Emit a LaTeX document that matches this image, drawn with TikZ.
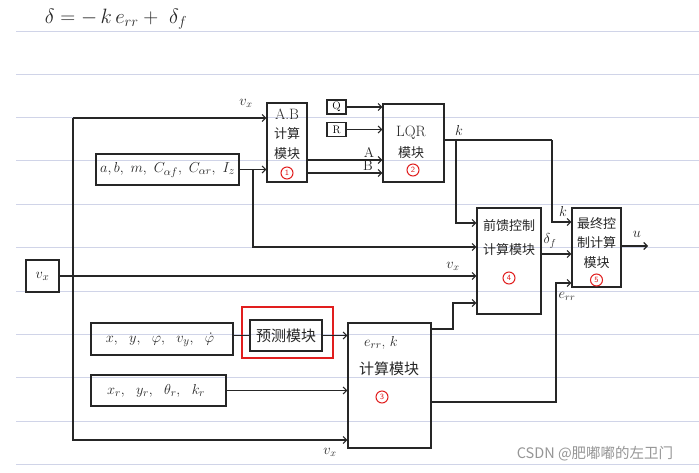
\documentclass[tikz,border=0pt]{standalone}
\usepackage{fontspec}
\newfontfamily\cjk{Noto Sans CJK SC}
\usetikzlibrary{arrows.meta}
\definecolor{ink}{RGB}{38,38,38}
\definecolor{cred}{RGB}{225,30,30}
\definecolor{rule}{RGB}{208,212,232}
\definecolor{wm}{RGB}{150,150,150}
\tikzset{
  blk/.style={draw=ink, line width=1.2pt, rectangle, inner sep=0pt},
  arr/.style={draw=ink, line width=1.1pt, -{Straight Barb[length=3.5pt,width=7pt]}},
  ln/.style={draw=ink, line width=1.1pt},
  cn/.style={circle, draw=cred, text=cred, line width=1pt, inner sep=0pt, minimum size=12pt, font=\fontsize{8}{8}\selectfont\sffamily},
  zh/.style={font=\cjk\fontsize{13}{13}\selectfont, inner sep=0pt, text=ink},
  zhb/.style={font=\cjk\fontsize{15}{15}\selectfont, inner sep=0pt, text=ink},
  lt/.style={font=\fontsize{15}{15}\selectfont, inner sep=0pt, text=ink},
  lbl/.style={font=\fontsize{14}{14}\selectfont, inner sep=0pt, text=ink},
}
\begin{document}
\begin{tikzpicture}[x=1pt,y=-1pt]
\useasboundingbox (0,0) rectangle (699,472);
\fill[white] (0,0) rectangle (699,472);
% ruled lines
\foreach \yy in {31,74,117,160,204,247,291,334,377,421,464}
  \draw[rule, line width=1pt] (16,\yy) -- (699,\yy);

% formula
\node[font=\fontsize{21}{21}\selectfont, inner sep=0pt, text=ink] (formula) at (116,19) {$\delta = -\,k\,e_{rr} + \ \delta_f$};

% boxes
\node[blk, minimum width=40pt, minimum height=79pt] (ab) at (287,142.5) {};
\node[lt] (abt1) at (287,114) {A.B};
\node[zh] (abt2) at (287,134) {计算};
\node[zh] (abt3) at (287,154) {模块};
\node[cn] (abn) at (287,173) {1};

\node[blk, minimum width=19pt, minimum height=14pt, font=\fontsize{11}{11}\selectfont] (q) at (336.5,107) {Q};
\node[blk, minimum width=19pt, minimum height=14pt, font=\fontsize{11}{11}\selectfont] (r) at (336.5,129.5) {R};

\node[blk, minimum width=61pt, minimum height=78pt] (lqr) at (413.5,143) {};
\node[lt] (lqrt1) at (411,133) {LQR};
\node[zh] (lqrt2) at (411,153) {模块};
\node[cn] (lqrn) at (413,170) {2};

\node[blk, minimum width=143pt, minimum height=31pt] (par) at (167.5,169.5) {};
\node[lt] (part) at (167.5,170) {$a,b,\ m,\ C_{\alpha f},\ C_{\alpha r},\ I_z$};

\node[blk, minimum width=64pt, minimum height=106pt] (ff) at (509,261) {};
\node[zh] (fft1) at (509,226) {前馈控制};
\node[zh] (fft2) at (509,250) {计算模块};
\node[cn] (ffn) at (509,278) {4};

\node[blk, minimum width=49pt, minimum height=79pt] (fin) at (596.5,247.5) {};
\node[zh] (fint1) at (596.5,224) {最终控};
\node[zh] (fint2) at (596.5,243) {制计算};
\node[zh] (fint3) at (596.5,263) {模块};
\node[cn] (finn) at (596.5,280) {5};

\node[blk, minimum width=33pt, minimum height=32pt] (vx) at (42.5,276) {};
\node[lt] (vxt) at (42.5,276) {$v_x$};

\node[blk, minimum width=142pt, minimum height=32pt] (st) at (162,339) {};
\node[lt] (stt) at (160,340) {$x,\ \ y,\ \ \varphi,\ \ v_y,\ \ \dot{\varphi}$};

\node[blk, minimum width=72pt, minimum height=31pt] (pred) at (286,335.5) {};
\node[zhb] (predt) at (286,336) {预测模块};
\draw[cred, line width=1.6pt] (242,307) rectangle (333,358);

\node[blk, minimum width=135pt, minimum height=31pt] (ref) at (158.5,390.5) {};
\node[lt] (reft) at (156,391) {$x_r,\ \ y_r,\ \ \theta_r,\ \ k_r$};

\node[blk, minimum width=83pt, minimum height=125pt] (err) at (389.5,385.5) {};
\node[lt] (errt1) at (381,343) {$e_{rr}$, $k$};
\node[zhb] (errt2) at (389,369) {计算模块};
\node[cn] (errn) at (382,397) {3};

% connectors
\coordinate (vtop) at (73,118);
\coordinate (vbot) at (73,440);
\draw[arr] (vtop) -- (ab.west |- vtop);
\draw[arr] (vtop) -- (vbot) -- (err.west |- vbot);
\node[lbl] (vxl1) at (246,103) {$v_x$};
\node[lbl] (vxl3) at (330,452) {$v_x$};

\draw[arr] (vx.east) -- (ff.west |- vx.east);
\node[lbl] (vxl2) at (453,266) {$v_x$};

\draw[arr] (par.east) -- (ab.west |- par.east);
\coordinate (pb) at (253,169.5);
\draw[arr] (pb) |- (ff.west |- 0,247);

\draw[arr] (q.east) -- (lqr.west |- q.east);
\draw[arr] (r.east) -- (lqr.west |- r.east);
\draw[arr] (ab.east |- 0,160) -- (lqr.west |- 0,160);
\draw[arr] (ab.east |- 0,173) -- (lqr.west |- 0,173);
\node[lbl] (al) at (369,152) {A};
\node[lbl] (bl) at (368,166) {B};

\coordinate (kb) at (456,140);
\coordinate (kc) at (552,140);
\draw[ln] (lqr.east |- kb) -- (kc);
\draw[arr] (kc) |- (fin.west |- 0,222);
\draw[arr] (kb) |- (ff.west |- 0,223);
\node[lbl] (kl1) at (459,130) {$k$};
\node[lbl] (kl2) at (563,211) {$k$};

\draw[arr] (ff.east |- 0,254) -- (fin.west |- 0,254);
\node[lbl] (dfl) at (550,241) {$\delta_f$};

\coordinate (uend) at (648,246);
\draw[arr] (fin.east |- uend) -- (uend);
\node[lbl] (ul) at (637,234) {$u$};

\draw[arr] (err.east |- 0,329) -- (453,329) |- (ff.west |- 0,303);
\draw[arr] (err.east |- 0,402) -- (556,402) |- (fin.west |- 0,283);
\node[lbl] (errl) at (567,296) {$e_{rr}$};

\draw[ln] (st.east |- pred.west) -- (pred.west);
\draw[arr] (pred.east) -- (err.west |- pred.east);
\draw[arr] (ref.east) -- (err.west |- ref.east);

% watermark
\node[font=\cjk\fontsize{14.5}{14.5}\selectfont, text=wm, inner sep=0pt] (wmk) at (595,454) {CSDN @肥嘟嘟的左卫门};
\end{tikzpicture}
\end{document}
